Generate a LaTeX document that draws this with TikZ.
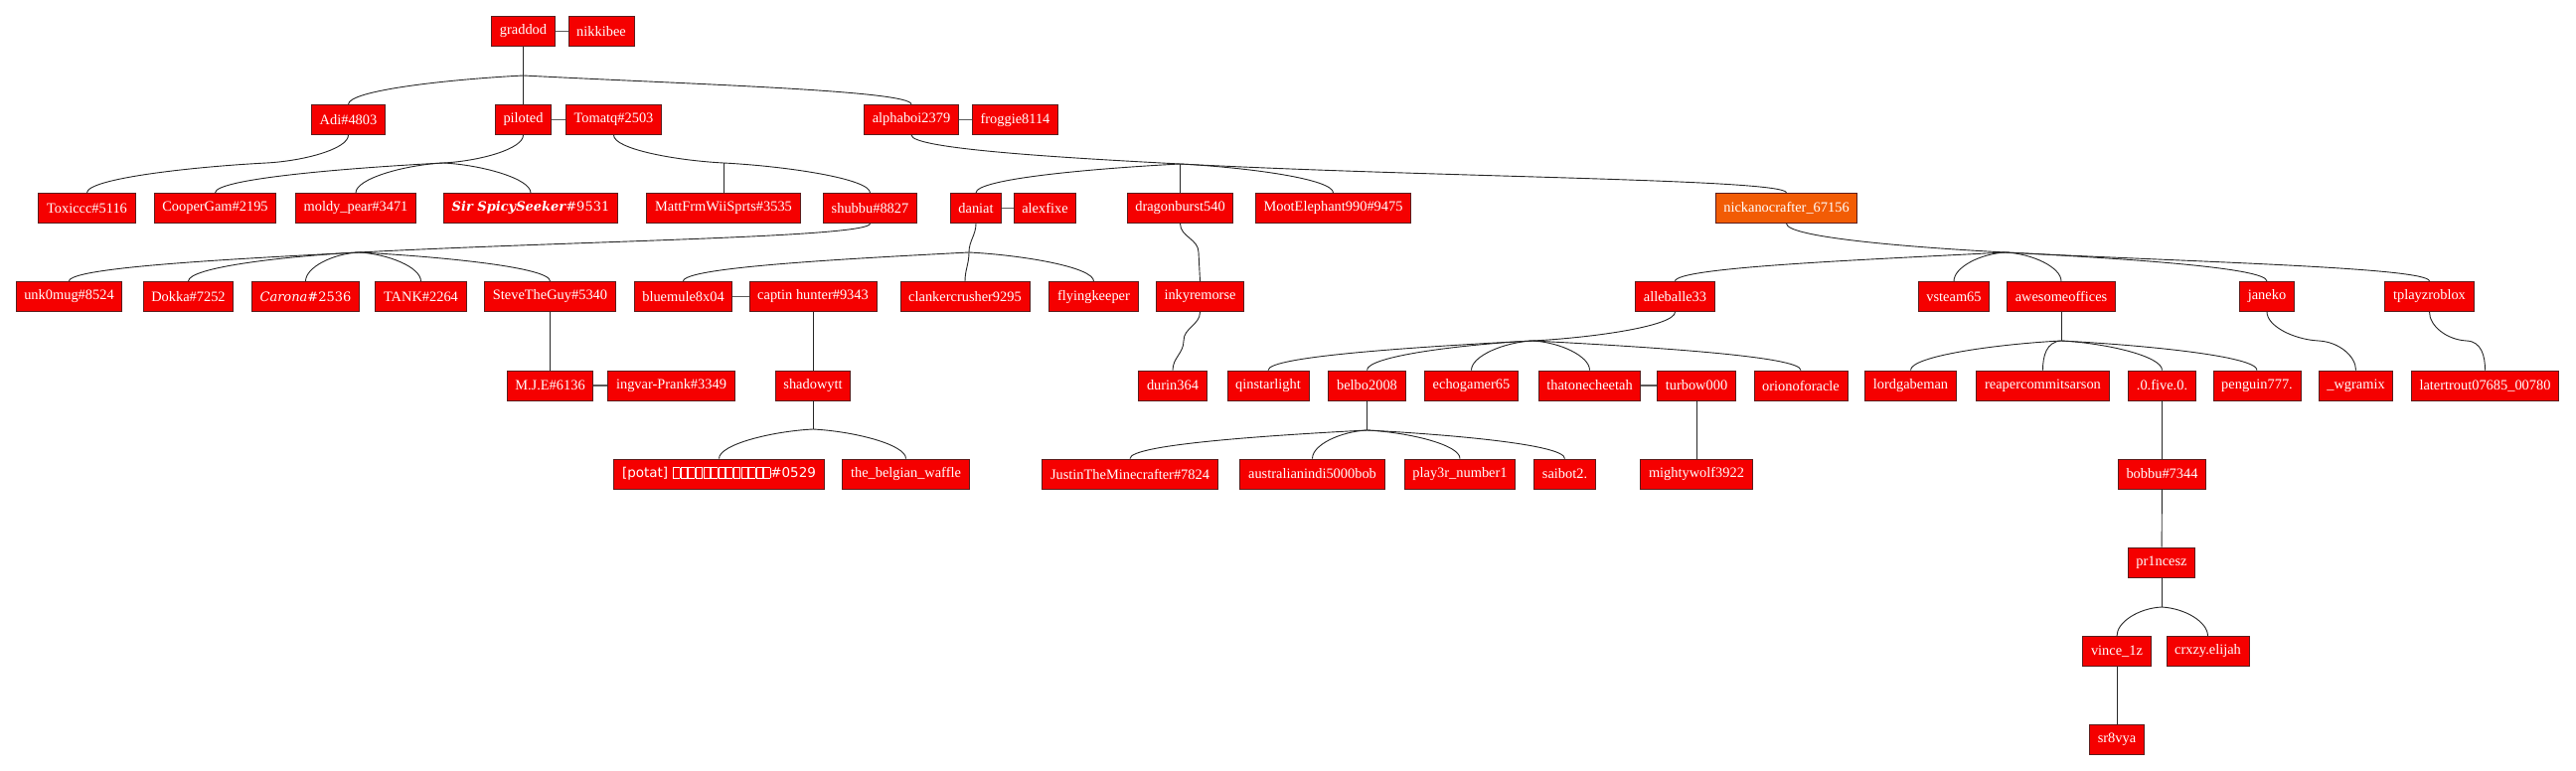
\documentclass[tikz,border=0pt]{standalone}
\usepackage{fontspec}
\setmainfont{Liberation Serif}
\newfontfamily\dvserif{DejaVu Serif}
\newfontfamily\dvsans{DejaVu Sans}
\usepackage{xcolor}
\usetikzlibrary{positioning}
\definecolor{famred}{HTML}{F50000}
\definecolor{famorange}{HTML}{F25C05}
\definecolor{boxedge}{HTML}{5A1E1E}
\definecolor{kin}{HTML}{262626}
\definecolor{spousegray}{HTML}{5C5C5C}
\tikzset{
  personbox/.style={
    rectangle, draw=boxedge, fill=#1, text=white, line width=0.9pt,
    minimum height=30pt, inner xsep=8.2pt, inner ysep=0pt,
    font=\fontsize{14.4}{16}\selectfont
  },
  personbox/.default=famred,
  kinline/.style={draw=kin, line width=0.9pt},
  spouseline/.style={draw=spousegray, line width=1.6pt},
  % junction -> child
  kidL/.style={out=183, in=90, in distance=14pt, out looseness=1.1},
  kidR/.style={out=-3, in=90, in distance=14pt, out looseness=1.1},
  % parent -> junction
  tojL/.style={out=-90, out distance=14pt, in=3, in looseness=1.1},
  tojR/.style={out=-90, out distance=14pt, in=177, in looseness=1.1},
  sbend/.style={out=-90, in=90},
}
\newcommand\tofu{\kern0.6pt{\fboxsep=0pt\fboxrule=0.5pt\fbox{\rule{0pt}{10pt}\hspace{6pt}}}}
\newcommand\tofurow{\foreach \k in {1,...,13}{\tofu}}

\begin{document}
\begin{tikzpicture}[x=1pt, y=1pt]
  \useasboundingbox (0,0) rectangle (2592,-776);

  % generation 1
  \node[personbox] (graddod) at (526.5,-31.5) {graddod};
  \node[personbox] (nikkibee) at (605,-31.5) {nikkibee};

  % generation 2
  \node[personbox] (adi) at (350.5,-120.5) {Adi\#4803};
  \node[personbox] (piloted) at (526.5,-120.5) {piloted};
  \node[personbox] (tomatq) at (617.5,-120.5) {Tomatq\#2503};
  \node[personbox] (alphaboi) at (917,-120.5) {alphaboi2379};
  \node[personbox] (froggie) at (1021.5,-120.5) {froggie8114};

  % generation 3
  \node[personbox] (toxiccc) at (87.5,-209.5) {Toxiccc\#5116};
  \node[personbox] (coopergam) at (216.5,-209.5) {CooperGam\#2195};
  \node[personbox] (moldypear) at (358,-209.5) {moldy\_pear\#3471};
  \node[personbox] (spicy) at (534,-209.5) {{\dvserif\fontsize{13}{16}\selectfont\bfseries\itshape Sir SpicySeeker}{\dvserif\fontsize{13}{16}\selectfont\#9531}};
  \node[personbox] (mattfrm) at (728,-209.5) {MattFrmWiiSprts\#3535};
  \node[personbox] (shubbu) at (875.5,-209.5) {shubbu\#8827};
  \node[personbox] (daniat) at (982,-209.5) {daniat};
  \node[personbox] (alexfixe) at (1051.5,-209.5) {alexfixe};
  \node[personbox] (dragonburst) at (1187.5,-209.5) {dragonburst540};
  \node[personbox] (moot) at (1341.5,-209.5) {MootElephant990\#9475};
  \node[personbox=famorange] (nickano) at (1797.5,-209.5) {nickanocrafter\_67156};

  % generation 4
  \node[personbox] (unkmug) at (69.5,-298.5) {unk0mug\#8524};
  \node[personbox] (dokka) at (189.5,-298.5) {Dokka\#7252};
  \node[personbox] (carona) at (307.5,-298.5) {{\dvserif\fontsize{13}{16}\selectfont\itshape Carona}{\dvserif\fontsize{13}{16}\selectfont\#2536}};
  \node[personbox] (tank) at (423.5,-298.5) {TANK\#2264};
  \node[personbox] (steve) at (553.5,-298.5) {SteveTheGuy\#5340};
  \node[personbox] (bluemule) at (687.5,-298.5) {bluemule8x04};
  \node[personbox] (captin) at (818,-298.5) {captin hunter\#9343};
  \node[personbox] (clanker) at (971,-298.5) {clankercrusher9295};
  \node[personbox] (flying) at (1100.5,-298.5) {flyingkeeper};
  \node[personbox] (inky) at (1207.5,-298.5) {inkyremorse};
  \node[personbox] (alleballe) at (1685.5,-298.5) {alleballe33};
  \node[personbox] (vsteam) at (1966,-298.5) {vsteam65};
  \node[personbox] (awesome) at (2074,-298.5) {awesomeoffices};
  \node[personbox] (janeko) at (2281,-298.5) {janeko};
  \node[personbox] (tplayz) at (2444.5,-298.5) {tplayzroblox};

  % generation 5
  \node[personbox] (mje) at (553.5,-388) {M.J.E\#6136};
  \node[personbox] (ingvar) at (675.5,-388) {ingvar-Prank\#3349};
  \node[personbox] (shadowytt) at (818,-388) {shadowytt};
  \node[personbox] (durin) at (1180,-388) {durin364};
  \node[personbox] (qinstar) at (1276,-388) {qinstarlight};
  \node[personbox] (belbo) at (1375.5,-388) {belbo2008};
  \node[personbox] (echogamer) at (1480.5,-388) {echogamer65};
  \node[personbox] (cheetah) at (1599.5,-388) {thatonecheetah};
  \node[personbox] (turbow) at (1707,-388) {turbow000};
  \node[personbox] (orion) at (1812,-388) {orionoforacle};
  \node[personbox] (lordgabe) at (1922.5,-388) {lordgabeman};
  \node[personbox] (reaper) at (2055.5,-388) {reapercommitsarson};
  \node[personbox] (fivezero) at (2175.5,-388) {.0.five.0.};
  \node[personbox] (penguin) at (2271,-388) {penguin777.};
  \node[personbox] (wgramix) at (2370.5,-388) {\_wgramix};
  \node[personbox] (latertrout) at (2500.5,-388) {latertrout07685\_00780};

  % generation 6
  \node[personbox] (potat) at (723.5,-477) {{\dvsans\fontsize{13.5}{16}\selectfont[potat] \tofurow\#0529}};
  \node[personbox] (belgian) at (911.5,-477) {the\_belgian\_waffle};
  \node[personbox] (justin) at (1137,-477) {JustinTheMinecrafter\#7824};
  \node[personbox] (ausindi) at (1320.5,-477) {australianindi5000bob};
  \node[personbox] (player) at (1469,-477) {play3r\_number1};
  \node[personbox] (saibot) at (1574.5,-477) {saibot2.};
  \node[personbox] (mightywolf) at (1707,-477) {mightywolf3922};
  \node[personbox] (bobbu) at (2175.5,-477) {bobbu\#7344};

  % generations 7 to 9
  \node[personbox] (princesz) at (2175,-566) {pr1ncesz};
  \node[personbox] (vince) at (2130,-655.5) {vince\_1z};
  \node[personbox] (crxzy) at (2221.5,-655.5) {crxzy.elijah};
  \node[personbox] (sr8vya) at (2130,-744) {sr8vya};

  % family junctions
  \coordinate (jGrad) at (526.5,-76);
  \coordinate (jAdi) at (268,-164);
  \coordinate (jPil) at (446,-164);
  \coordinate (jTom) at (728,-164);
  \coordinate (jAlpha) at (1187.5,-165);
  \coordinate (jShub) at (361,-254);
  \coordinate (jDan) at (975,-254);
  \coordinate (jDrag) at (1206,-254);
  \coordinate (jNick) at (2018,-254);
  \coordinate (jInky) at (1191,-343);
  \coordinate (jAlle) at (1542,-343);
  \coordinate (jAwes) at (2074,-343);
  \coordinate (jJan) at (2333,-343);
  \coordinate (jTply) at (2482,-343);
  \coordinate (jShadow) at (818,-432);
  \coordinate (jBelbo) at (1375.5,-433);
  \coordinate (jPrin) at (2175,-611);

  % couples
  \draw[spouseline] (graddod) -- (nikkibee);
  \draw[spouseline] (piloted) -- (tomatq);
  \draw[spouseline] (alphaboi) -- (froggie);
  \draw[spouseline] (daniat) -- (alexfixe);
  \draw[spouseline] (bluemule) -- (captin);
  \draw[spouseline] (mje) -- (ingvar);
  \draw[spouseline] (cheetah) -- (turbow);

  % generation 1 -> 2
  \draw[kinline] (graddod) -- (piloted);
  \draw[kinline] (jGrad) to[kidL] (adi.north);
  \draw[kinline] (jGrad) to[kidR] (alphaboi.north);

  % generation 2 -> 3
  \draw[kinline] (adi.south) to[tojL] (jAdi) to[kidL] (toxiccc.north);
  \draw[kinline] (piloted.south) to[tojL] (jPil);
  \draw[kinline] (jPil) to[kidL] (coopergam.north);
  \draw[kinline] (jPil) to[kidL] (moldypear.north);
  \draw[kinline] (jPil) to[kidR] (spicy.north);
  \draw[kinline] (tomatq.south) to[tojR] (jTom);
  \draw[kinline] (jTom) -- (mattfrm.north);
  \draw[kinline] (jTom) to[kidR] (shubbu.north);
  \draw[kinline] (alphaboi.south) to[tojR] (jAlpha);
  \draw[kinline] (jAlpha) to[kidL] (daniat.north);
  \draw[kinline] (jAlpha) -- (dragonburst.north);
  \draw[kinline] (jAlpha) to[kidR] (moot.north);
  \draw[kinline] (jAlpha) to[kidR] (nickano.north);

  % generation 3 -> 4
  \draw[kinline] (shubbu.south) to[tojL] (jShub);
  \draw[kinline] (jShub) to[kidL] (unkmug.north);
  \draw[kinline] (jShub) to[kidL] (dokka.north);
  \draw[kinline] (jShub) to[kidL] (carona.north);
  \draw[kinline] (jShub) to[kidR] (tank.north);
  \draw[kinline] (jShub) to[kidR] (steve.north);
  \draw[kinline] (daniat.south) to[sbend] (jDan) to[sbend] (clanker.north);
  \draw[kinline] (jDan) to[kidL] (bluemule.north);
  \draw[kinline] (jDan) to[kidR] (flying.north);
  \draw[kinline] (dragonburst.south) to[sbend] (jDrag) -- (inky.north);
  \draw[kinline] (nickano.south) to[tojR] (jNick);
  \draw[kinline] (jNick) to[kidL] (alleballe.north);
  \draw[kinline] (jNick) to[kidL] (vsteam.north);
  \draw[kinline] (jNick) to[kidR] (awesome.north);
  \draw[kinline] (jNick) to[kidR] (janeko.north);
  \draw[kinline] (jNick) to[kidR] (tplayz.north);

  % generation 4 -> 5
  \draw[kinline] (steve) -- (mje);
  \draw[kinline] (captin) -- (shadowytt);
  \draw[kinline] (inky.south) to[sbend] (jInky) to[sbend] (durin.north);
  \draw[kinline] (alleballe.south) to[tojL] (jAlle);
  \draw[kinline] (jAlle) to[kidL] (qinstar.north);
  \draw[kinline] (jAlle) to[kidL] (belbo.north);
  \draw[kinline] (jAlle) to[kidL] (echogamer.north);
  \draw[kinline] (jAlle) to[kidR] (cheetah.north);
  \draw[kinline] (jAlle) to[kidR] (orion.north);
  \draw[kinline] (awesome.south) -- (jAwes);
  \draw[kinline] (jAwes) to[kidL] (lordgabe.north);
  \draw[kinline] (jAwes) to[kidL] (reaper.north);
  \draw[kinline] (jAwes) to[kidR] (fivezero.north);
  \draw[kinline] (jAwes) to[kidR] (penguin.north);
  \draw[kinline] (janeko.south) to[tojR] (jJan) to[kidR] (wgramix.north);
  \draw[kinline] (tplayz.south) to[tojR] (jTply) to[kidR] (latertrout.north);

  % generation 5 -> 6
  \draw[kinline] (shadowytt.south) -- (jShadow);
  \draw[kinline] (jShadow) to[kidL] (potat.north);
  \draw[kinline] (jShadow) to[kidR] (belgian.north);
  \draw[kinline] (belbo.south) -- (jBelbo);
  \draw[kinline] (jBelbo) to[kidL] (justin.north);
  \draw[kinline] (jBelbo) to[kidL] (ausindi.north);
  \draw[kinline] (jBelbo) to[kidR] (player.north);
  \draw[kinline] (jBelbo) to[kidR] (saibot.north);
  \draw[kinline] (turbow) -- (mightywolf);
  \draw[kinline] (fivezero) -- (bobbu);

  % generation 6 -> 9
  \draw[kinline] (bobbu) -- (princesz);
  \draw[kinline] (princesz.south) -- (jPrin);
  \draw[kinline] (jPrin) to[kidL] (vince.north);
  \draw[kinline] (jPrin) to[kidR] (crxzy.north);
  \draw[kinline] (vince) -- (sr8vya);
\end{tikzpicture}
\end{document}
